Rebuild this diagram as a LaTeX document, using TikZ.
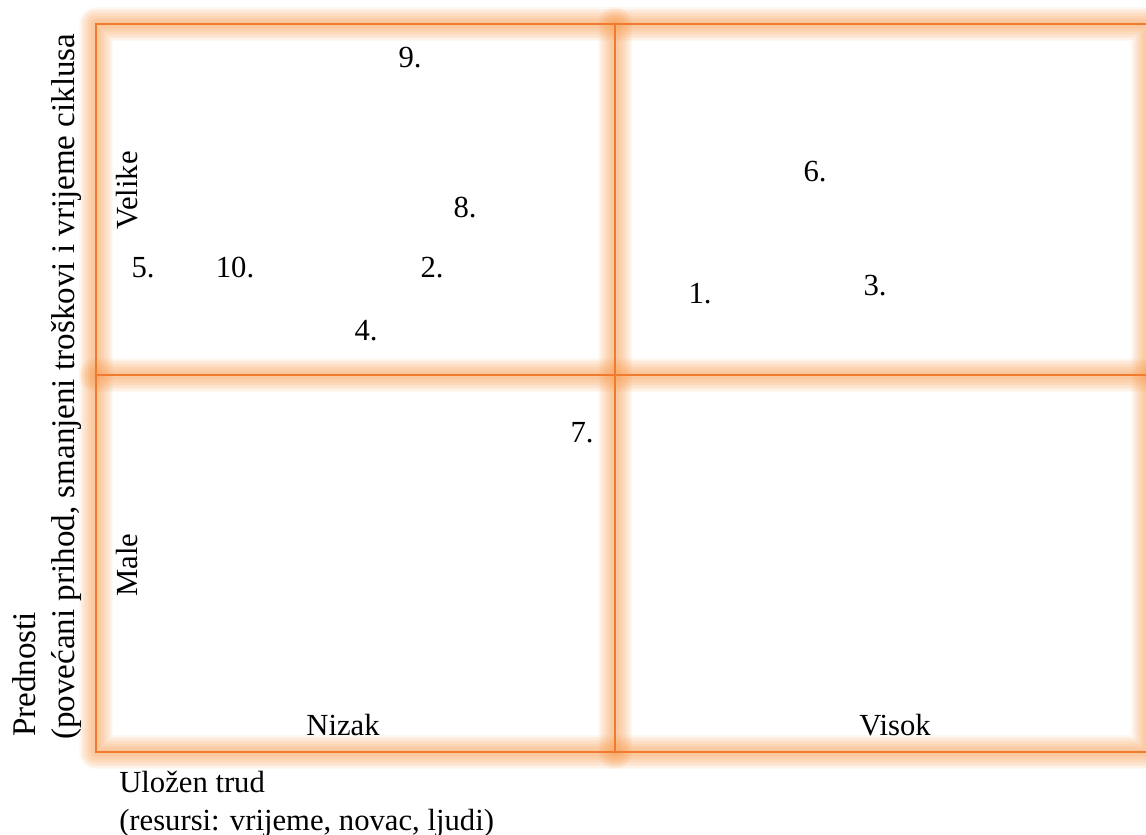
\documentclass[tikz,border=0pt]{standalone}
\usepackage{fontspec}
\setmainfont{Liberation Serif}
\definecolor{gridor}{HTML}{F07B2E}
\definecolor{glowor}{HTML}{F79646}
\tikzset{
  lbl/.style={inner sep=0pt, font=\fontsize{23}{28}\selectfont},
  vlbl/.style={lbl, rotate=90, anchor=base west},
  axlbl/.style={vlbl, font=\fontsize{24.8}{30}\selectfont},
  glowline/.style={draw=glowor, line join=round, line cap=round},
  gridline/.style={draw=gridor, line width=1.6pt}
}
\begin{document}
\begin{tikzpicture}[x=0.75pt,y=-0.75pt]
\useasboundingbox (0,0) rectangle (1146,835);
% grid coordinates
\coordinate (tl) at (96,24);
\coordinate (tr) at (1148,24);
\coordinate (bl) at (96,752);
\coordinate (br) at (1148,752);
\coordinate (mt) at (615,24);
\coordinate (mb) at (615,752);
\coordinate (ml) at (96,375);
\coordinate (mr) at (1148,375);
% glow
\foreach \w in {34,31,28,25,22,19,16,13,10,7} {
  \draw[glowline, line width=\w*0.75pt, opacity=0.07] (tl) -- (tr) -- (br) -- (bl) -- cycle;
  \draw[glowline, line width=\w*0.75pt, opacity=0.07] (mt) -- (mb);
  \draw[glowline, line width=\w*0.75pt, opacity=0.07] (ml) -- (mr);
}
% main lines
\draw[gridline] (tl) -- (tr) -- (br) -- (bl) -- cycle;
\draw[gridline] (mt) -- (mb);
\draw[gridline] (ml) -- (mr);
% numbers
\node[lbl, anchor=base] (n9) at (410,67) {9.};
\node[lbl, anchor=base] (n6) at (815,181) {6.};
\node[lbl, anchor=base] (n8) at (465,217) {8.};
\node[lbl, anchor=base] (n5) at (143,277) {5.};
\node[lbl, anchor=base] (n10) at (235,277) {10.};
\node[lbl, anchor=base] (n2) at (432,277) {2.};
\node[lbl, anchor=base] (n1) at (700,303) {1.};
\node[lbl, anchor=base] (n3) at (875,295) {3.};
\node[lbl, anchor=base] (n4) at (366,340) {4.};
\node[lbl, anchor=base] (n7) at (582,442) {7.};
% quadrant labels
\node[vlbl] (velike) at (137,230) {Velike};
\node[vlbl] (male) at (137,597) {Male};
\node[lbl, anchor=base] (nizak) at (343,735) {Nizak};
\node[lbl, anchor=base] (visok) at (895,735) {Visok};
% axis labels
\node[lbl, anchor=base west] (ax1) at (119,792) {Uložen trud};
\node[lbl, anchor=base west] (ax2) at (119,830) {(resursi: vrijeme, novac, ljudi)};
\node[axlbl] (ay1) at (35,737) {Prednosti};
\node[axlbl] (ay2) at (74,740) {(povećani prihod, smanjeni troškovi i vrijeme ciklusa};
\end{tikzpicture}
\end{document}
